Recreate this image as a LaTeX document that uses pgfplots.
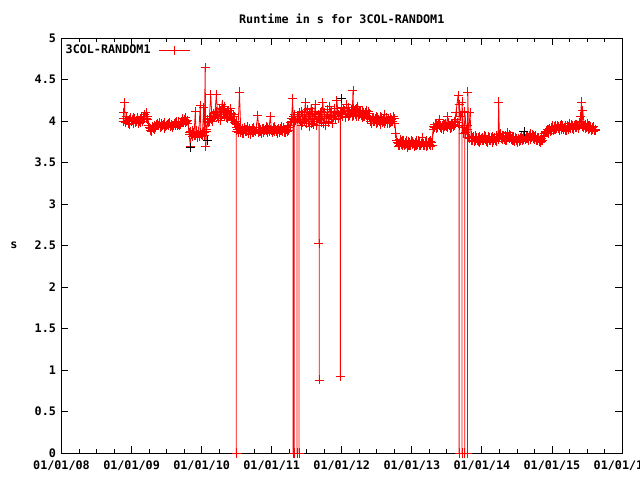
\documentclass[border=0pt]{standalone}
\usepackage{pgfplots}
\pgfplotsset{compat=1.18}
\usepackage{fontspec}
\setmainfont{DejaVu Sans Mono}
\newcommand{\gp}{\fontsize{11.8pt}{13pt}\selectfont\bfseries}
\definecolor{gpred}{RGB}{255,0,0}
\begin{document}
\begin{tikzpicture}
\begin{axis}[
  name=ax,
  scale only axis,
  width=560.5bp, height=415bp,
  xmin=2008, xmax=2016, ymin=0, ymax=5,
  xtick={2008,2009,2010,2011,2012,2013,2014,2015,2016},
  xticklabels={01/01/08,01/01/09,01/01/10,01/01/11,01/01/12,01/01/13,01/01/14,01/01/15,01/01/16},
  minor x tick num=3,
  ytick={0,0.5,1,1.5,2,2.5,3,3.5,4,4.5,5},
  yticklabels={0,0.5,1,1.5,2,2.5,3,3.5,4,4.5,5},
  tick align=inside,
  major tick length=7bp, minor tick length=4bp,
  every tick/.style={black, line width=0.8bp},
  axis line style={black, line width=0.8bp},
  /pgf/number format/assume math mode=true,
  ticklabel style={font=\gp},
  xticklabel style={yshift=-4bp},
  yticklabel style={xshift=-2bp},
  title={Runtime in s for 3COL-RANDOM1},
  title style={font=\gp, at={(axis description cs:0.5,1)}, anchor=center, yshift=13bp},
  legend plot pos=right,
  legend style={draw=none, fill=none, font=\gp, at={(axis description cs:0,1)}, anchor=north west, inner sep=1bp, xshift=1bp, yshift=-4bp, column sep=6bp},
  legend image code/.code={\draw[mark repeat=2,mark phase=2] plot coordinates {(0cm,0cm) (0.55cm,0cm) (1.1cm,0cm)};},
]
\addplot[gpred, line width=0.8bp, mark=+, mark size=4.5bp, mark options={line width=0.8bp}] coordinates {
(2008.88,4.00) (2008.89,4.10) (2008.90,4.22) (2008.91,3.98) (2008.93,4.03) (2008.95,3.97) (2008.97,4.02)
(2009.00,3.99) (2009.02,4.04) (2009.05,3.98) (2009.07,4.01) (2009.10,3.97) (2009.12,4.03) (2009.15,4.00)
(2009.17,4.05) (2009.19,4.08) (2009.21,4.03) (2009.23,4.06) (2009.25,3.92) (2009.27,3.89) (2009.30,3.93)
(2009.32,3.90) (2009.35,3.96) (2009.37,3.94) (2009.40,3.98) (2009.42,3.93) (2009.45,3.96) (2009.47,3.91)
(2009.50,3.95) (2009.52,3.97) (2009.55,3.93) (2009.57,3.96) (2009.60,3.94) (2009.62,3.98) (2009.65,3.95)
(2009.67,3.99) (2009.70,3.96) (2009.72,4.00) (2009.75,4.02) (2009.77,3.98) (2009.80,4.01) (2009.82,3.86)
(2009.84,3.69) (2009.85,3.84) (2009.87,3.88) (2009.89,3.82) (2009.91,4.11) (2009.92,3.85) (2009.94,3.80)
(2009.96,3.87) (2009.98,4.19) (2009.99,3.84) (2010.01,3.83) (2010.03,4.16) (2010.04,3.86) (2010.05,4.64)
(2010.06,3.69) (2010.07,3.90) (2010.09,3.98) (2010.11,4.03) (2010.13,4.32) (2010.15,4.00) (2010.17,4.06)
(2010.19,4.10) (2010.21,4.32) (2010.23,4.05) (2010.25,4.15) (2010.27,4.01) (2010.29,4.20) (2010.31,4.08)
(2010.33,4.17) (2010.35,4.04) (2010.37,4.12) (2010.39,4.06) (2010.41,4.15) (2010.43,4.02) (2010.45,4.08)
(2010.47,3.98) (2010.49,4.00) (2010.495,3.96) (2010.495,0.00) (2010.495,3.92) (2010.50,3.88) (2010.52,3.92) (2010.54,4.35) (2010.56,3.86)
(2010.58,3.91) (2010.60,3.85) (2010.62,3.90) (2010.64,3.87) (2010.66,3.93) (2010.68,3.88) (2010.70,3.84)
(2010.72,3.91) (2010.74,3.86) (2010.76,3.89) (2010.78,3.92) (2010.80,4.07) (2010.82,3.87) (2010.84,3.90)
(2010.86,3.85) (2010.88,3.91) (2010.90,3.88) (2010.92,3.93) (2010.94,3.86) (2010.96,3.90) (2010.98,4.05)
(2011.00,3.88) (2011.02,3.92) (2011.04,3.87) (2011.06,3.90) (2011.08,3.85) (2011.10,3.91) (2011.12,3.88)
(2011.14,3.93) (2011.16,3.87) (2011.18,3.90) (2011.20,3.86) (2011.22,3.92) (2011.24,3.89) (2011.26,3.95)
(2011.28,4.00) (2011.30,4.27) (2011.305,4.05) (2011.305,0.00) (2011.305,4.02) (2011.32,4.05) (2011.32,0.00) (2011.32,3.98)
(2011.36,4.02) (2011.36,0.00) (2011.36,4.06) (2011.39,4.02) (2011.39,0.00) (2011.39,4.08)
(2011.40,4.10) (2011.42,3.95) (2011.44,4.08) (2011.46,4.00) (2011.48,4.22)
(2011.50,3.97) (2011.52,4.05) (2011.54,3.93) (2011.56,4.15) (2011.58,4.02) (2011.60,3.96) (2011.62,4.20)
(2011.64,3.99) (2011.66,4.05) (2011.675,4.05) (2011.675,2.52) (2011.675,4.02) (2011.68,4.02) (2011.68,0.88) (2011.68,4.05) (2011.69,4.10) (2011.71,3.98)
(2011.73,4.22) (2011.75,4.03) (2011.77,3.95) (2011.79,4.08) (2011.81,4.00) (2011.83,4.18) (2011.85,4.05)
(2011.87,3.97) (2011.89,4.10) (2011.91,4.02) (2011.93,4.25) (2011.95,4.08) (2011.98,4.10) (2011.98,0.92) (2011.98,4.12) (2011.99,4.12)
(2012.01,4.05) (2012.03,4.15) (2012.05,4.08) (2012.07,4.20) (2012.09,4.06) (2012.11,4.12) (2012.13,4.09)
(2012.15,4.10) (2012.16,4.37) (2012.17,4.07) (2012.19,4.14) (2012.21,4.05) (2012.23,4.18) (2012.25,4.08)
(2012.27,4.12) (2012.29,4.04) (2012.31,4.10) (2012.33,4.06) (2012.35,4.13) (2012.37,4.03) (2012.39,4.09)
(2012.41,4.02) (2012.43,3.97) (2012.45,4.03) (2012.47,3.99) (2012.49,4.05) (2012.51,3.98) (2012.53,4.02)
(2012.55,3.96) (2012.57,4.04) (2012.59,3.99) (2012.61,4.08) (2012.63,4.00) (2012.65,3.97) (2012.67,4.03)
(2012.69,3.98) (2012.71,4.02) (2012.73,3.99) (2012.75,4.03) (2012.77,3.85) (2012.79,3.74) (2012.81,3.70)
(2012.83,3.78) (2012.85,3.72) (2012.87,3.76) (2012.89,3.70) (2012.91,3.74) (2012.93,3.68) (2012.95,3.75)
(2012.97,3.71) (2012.99,3.77) (2013.01,3.72) (2013.03,3.69) (2013.05,3.74) (2013.07,3.71) (2013.09,3.76)
(2013.11,3.70) (2013.13,3.73) (2013.15,3.80) (2013.17,3.71) (2013.19,3.75) (2013.21,3.69) (2013.23,3.74)
(2013.25,3.72) (2013.27,3.76) (2013.29,3.71) (2013.31,3.93) (2013.33,3.96) (2013.35,3.91) (2013.37,3.94)
(2013.39,4.02) (2013.41,3.92) (2013.43,3.95) (2013.45,3.90) (2013.47,3.96) (2013.49,3.93) (2013.51,4.05)
(2013.53,3.94) (2013.55,3.91) (2013.57,3.97) (2013.59,3.93) (2013.61,4.00) (2013.63,4.10) (2013.66,4.31)
(2013.675,4.10) (2013.675,0.00) (2013.675,4.20) (2013.70,4.05) (2013.715,4.10) (2013.715,0.00) (2013.715,4.23) (2013.74,3.85)
(2013.755,3.95) (2013.755,0.00) (2013.755,4.12) (2013.78,3.90) (2013.795,3.90) (2013.795,0.00) (2013.795,3.95) (2013.80,4.35) (2013.81,3.80) (2013.83,4.10) (2013.85,3.76)
(2013.87,3.80) (2013.89,3.75) (2013.91,3.82) (2013.93,3.77) (2013.95,3.80) (2013.97,3.74) (2013.99,3.79)
(2014.01,3.76) (2014.03,3.83) (2014.05,3.78) (2014.07,3.75) (2014.09,3.81) (2014.11,3.77) (2014.13,3.80)
(2014.15,3.74) (2014.17,3.79) (2014.19,3.76) (2014.21,3.82) (2014.23,3.78) (2014.24,4.23) (2014.25,3.80)
(2014.27,3.85) (2014.29,3.78) (2014.31,3.82) (2014.33,3.76) (2014.35,3.80) (2014.37,3.86) (2014.39,3.79)
(2014.41,3.82) (2014.43,3.77) (2014.45,3.81) (2014.47,3.75) (2014.49,3.79) (2014.51,3.74) (2014.53,3.78)
(2014.55,3.76) (2014.57,3.81) (2014.59,3.78) (2014.61,3.84) (2014.63,3.79) (2014.65,3.82) (2014.67,3.77)
(2014.69,3.85) (2014.71,3.80) (2014.73,3.83) (2014.75,3.78) (2014.77,3.82) (2014.79,3.76) (2014.81,3.80)
(2014.83,3.74) (2014.85,3.79) (2014.87,3.77) (2014.89,3.83) (2014.91,3.86) (2014.93,3.90) (2014.95,3.85)
(2014.97,3.91) (2014.99,3.88) (2015.01,3.94) (2015.03,3.90) (2015.05,3.95) (2015.07,3.91) (2015.09,3.93)
(2015.11,3.89) (2015.13,3.96) (2015.15,3.92) (2015.17,3.90) (2015.19,3.95) (2015.21,3.88) (2015.23,3.93)
(2015.25,3.97) (2015.27,3.91) (2015.29,3.94) (2015.31,3.90) (2015.33,3.96) (2015.35,3.92) (2015.37,3.95)
(2015.39,3.98) (2015.41,4.05) (2015.42,4.23) (2015.43,3.93) (2015.44,4.13) (2015.46,3.95) (2015.48,3.91)
(2015.50,3.97) (2015.52,3.90) (2015.54,3.94) (2015.56,3.89) (2015.58,3.92) (2015.60,3.88) (2015.62,3.90)
};
\addlegendentry{3COL-RANDOM1}
\addplot[gpred, line width=0.8bp, mark=+, mark size=4.5bp, mark options={line width=0.8bp}, forget plot] coordinates {
(2008.885,4.03) (2008.905,3.99) (2008.925,4.05) (2008.945,4.01) (2008.965,3.96) (2008.985,4.04) (2009.005,4.02)
(2009.025,3.97) (2009.045,4.03) (2009.065,3.99) (2009.085,4.04) (2009.105,4.00) (2009.125,3.98) (2009.145,4.05)
(2009.165,4.02) (2009.185,4.06) (2009.205,4.10) (2009.225,4.02) (2009.245,3.95) (2009.265,3.91) (2009.285,3.87)
(2009.305,3.91) (2009.325,3.95) (2009.345,3.92) (2009.365,3.97) (2009.385,3.95) (2009.405,3.92) (2009.425,3.97)
(2009.445,3.94) (2009.465,3.98) (2009.485,3.93) (2009.505,3.96) (2009.525,3.94) (2009.545,3.98) (2009.565,3.95)
(2009.585,3.92) (2009.605,3.97) (2009.625,3.95) (2009.645,3.99) (2009.665,3.96) (2009.685,3.94) (2009.705,3.99)
(2009.725,4.03) (2009.745,3.99) (2009.765,4.04) (2009.785,4.00) (2009.805,3.97) (2009.825,3.84) (2009.845,3.87)
(2009.865,3.81) (2009.885,3.86) (2009.905,3.83) (2009.925,3.88) (2009.945,3.84) (2009.965,3.81) (2009.985,3.86)
(2010.005,3.82) (2010.025,3.87) (2010.045,3.83) (2010.065,3.88) (2010.085,4.02) (2010.105,3.99) (2010.125,4.06)
(2010.145,4.02) (2010.165,4.09) (2010.185,4.04) (2010.205,4.12) (2010.225,4.07) (2010.245,4.03) (2010.265,4.11)
(2010.285,4.06) (2010.305,4.14) (2010.325,4.05) (2010.345,4.10) (2010.365,4.03) (2010.385,4.13) (2010.405,4.05)
(2010.425,4.09) (2010.445,4.01) (2010.465,4.05) (2010.485,3.97) (2010.505,3.90) (2010.525,3.86) (2010.545,3.91)
(2010.565,3.88) (2010.585,3.85) (2010.605,3.92) (2010.625,3.87) (2010.645,3.90) (2010.665,3.85) (2010.685,3.91)
(2010.705,3.88) (2010.725,3.86) (2010.745,3.92) (2010.765,3.87) (2010.785,3.90) (2010.805,3.86) (2010.825,3.92)
(2010.845,3.87) (2010.865,3.91) (2010.885,3.86) (2010.905,3.90) (2010.925,3.88) (2010.945,3.92) (2010.965,3.87)
(2010.985,3.90) (2011.005,3.86) (2011.025,3.89) (2011.045,3.93) (2011.065,3.87) (2011.085,3.90) (2011.105,3.86)
(2011.125,3.91) (2011.145,3.88) (2011.165,3.92) (2011.185,3.86) (2011.205,3.90) (2011.225,3.87) (2011.245,3.92)
(2011.265,3.98) (2011.285,4.03) (2011.325,4.08) (2011.345,4.01) (2011.375,4.06) (2011.405,4.00) (2011.425,4.12)
(2011.445,3.98) (2011.465,4.10) (2011.485,4.02) (2011.505,4.14) (2011.525,3.99) (2011.545,4.08) (2011.565,3.97)
(2011.585,4.12) (2011.605,4.03) (2011.625,4.09) (2011.645,3.95) (2011.665,4.08) (2011.695,4.02) (2011.715,4.12)
(2011.735,3.97) (2011.755,4.10) (2011.775,4.03) (2011.795,4.14) (2011.815,3.98) (2011.835,4.07) (2011.855,4.12)
(2011.875,4.04) (2011.895,4.15) (2011.915,4.06) (2011.935,4.11) (2011.955,4.03) (2011.975,4.09) (2011.995,4.16)
(2012.015,4.09) (2012.035,4.13) (2012.055,4.04) (2012.075,4.11) (2012.095,4.16) (2012.115,4.07) (2012.135,4.14)
(2012.155,4.06) (2012.175,4.12) (2012.195,4.08) (2012.215,4.15) (2012.235,4.06) (2012.255,4.11) (2012.275,4.07)
(2012.295,4.13) (2012.315,4.05) (2012.335,4.10) (2012.355,4.07) (2012.375,4.11) (2012.395,4.05) (2012.415,3.99)
(2012.435,4.04) (2012.455,4.00) (2012.475,4.03) (2012.495,3.97) (2012.515,4.04) (2012.535,4.00) (2012.555,4.05)
(2012.575,3.98) (2012.595,4.03) (2012.615,3.97) (2012.635,4.04) (2012.655,4.01) (2012.675,3.97) (2012.695,4.04)
(2012.715,4.00) (2012.735,4.05) (2012.755,3.97) (2012.785,3.77) (2012.805,3.73) (2012.825,3.71) (2012.845,3.75)
(2012.865,3.71) (2012.885,3.76) (2012.905,3.72) (2012.925,3.77) (2012.945,3.71) (2012.965,3.74) (2012.985,3.70)
(2013.005,3.75) (2013.025,3.73) (2013.045,3.70) (2013.065,3.76) (2013.085,3.72) (2013.105,3.74) (2013.125,3.70)
(2013.145,3.75) (2013.165,3.73) (2013.185,3.70) (2013.205,3.76) (2013.225,3.71) (2013.245,3.75) (2013.265,3.70)
(2013.285,3.74) (2013.305,3.90) (2013.325,3.92) (2013.345,3.96) (2013.365,3.92) (2013.385,3.97) (2013.405,3.94)
(2013.425,3.91) (2013.445,3.96) (2013.465,3.93) (2013.485,3.97) (2013.505,3.92) (2013.525,3.98) (2013.545,3.94)
(2013.565,3.92) (2013.585,3.96) (2013.605,3.94) (2013.625,4.02) (2013.645,3.98) (2013.685,3.95) (2013.725,3.92)
(2013.765,3.86) (2013.825,3.79) (2013.845,3.82) (2013.865,3.77) (2013.885,3.81) (2013.905,3.76) (2013.925,3.80)
(2013.945,3.75) (2013.965,3.81) (2013.985,3.77) (2014.005,3.80) (2014.025,3.76) (2014.045,3.81) (2014.065,3.78)
(2014.085,3.74) (2014.105,3.80) (2014.125,3.76) (2014.145,3.81) (2014.165,3.77) (2014.185,3.80) (2014.205,3.75)
(2014.225,3.80) (2014.255,3.84) (2014.275,3.79) (2014.295,3.83) (2014.315,3.78) (2014.335,3.82) (2014.355,3.77)
(2014.375,3.81) (2014.395,3.84) (2014.415,3.78) (2014.435,3.81) (2014.455,3.77) (2014.475,3.80) (2014.495,3.76)
(2014.515,3.79) (2014.535,3.75) (2014.555,3.80) (2014.575,3.77) (2014.595,3.82) (2014.615,3.78) (2014.635,3.83)
(2014.655,3.79) (2014.675,3.82) (2014.695,3.78) (2014.715,3.84) (2014.735,3.79) (2014.755,3.81) (2014.775,3.77)
(2014.795,3.80) (2014.815,3.75) (2014.835,3.78) (2014.855,3.76) (2014.875,3.81) (2014.895,3.85) (2014.915,3.88)
(2014.935,3.86) (2014.955,3.90) (2014.975,3.87) (2014.995,3.92) (2015.015,3.89) (2015.035,3.93) (2015.055,3.90)
(2015.075,3.94) (2015.095,3.91) (2015.115,3.95) (2015.135,3.90) (2015.155,3.94) (2015.175,3.92) (2015.195,3.89)
(2015.215,3.94) (2015.235,3.90) (2015.255,3.93) (2015.275,3.96) (2015.295,3.91) (2015.315,3.95) (2015.335,3.92)
(2015.355,3.96) (2015.375,3.91) (2015.395,3.95) (2015.415,3.99) (2015.455,3.92) (2015.475,3.96) (2015.495,3.92)
(2015.515,3.95) (2015.535,3.91) (2015.555,3.93) (2015.575,3.90) (2015.595,3.93) (2015.615,3.89)
};
\addplot[black, only marks, mark=+, mark size=4.5bp, mark options={line width=0.8bp}, forget plot] coordinates {
(2009.84,3.68) (2010.08,3.77) (2012.00,4.27) (2014.60,3.87)
};
\end{axis}
\node[font=\gp, anchor=center] at (ax.west) [xshift=-47.5bp] {s};
\pgfresetboundingbox
\path (-61.5bp,-27bp) rectangle (578.5bp,453bp);
\end{tikzpicture}
\end{document}
